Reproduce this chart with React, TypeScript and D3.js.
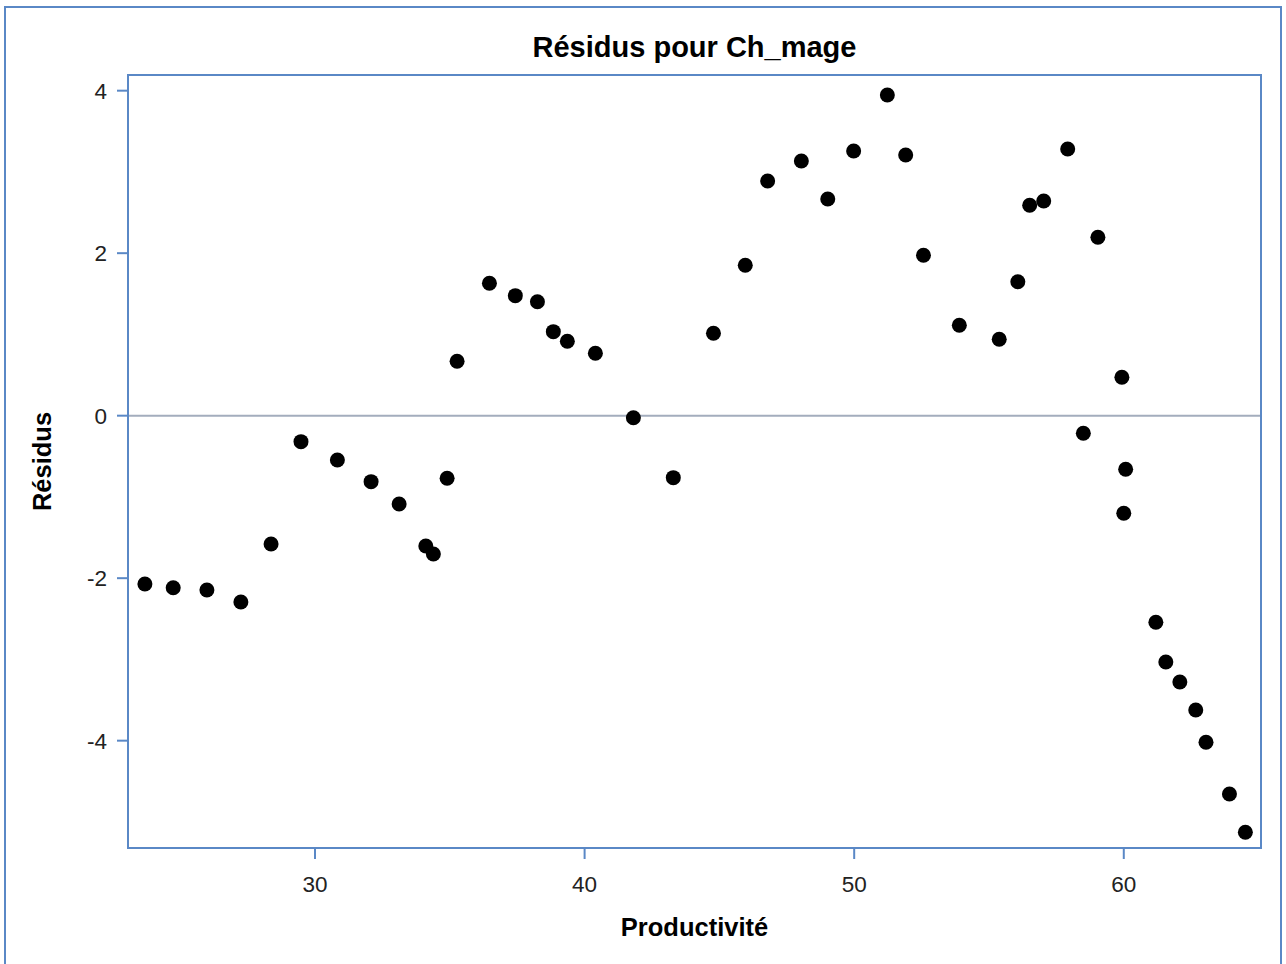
import React from "react";
import * as d3 from "d3";

const productivite: number[] = [
  23.69, 24.74, 25.99, 27.25, 28.37, 29.48, 30.83, 32.08, 33.12, 34.11,
  34.39, 34.9, 35.27, 36.47, 37.43, 38.25, 38.84, 39.36, 40.4, 41.81,
  43.29, 44.78, 45.96, 46.79, 48.04, 49.02, 49.98, 51.23, 51.91, 52.57,
  53.9, 55.38, 56.07, 56.51, 57.03, 57.92, 58.5, 59.04, 59.93, 60.07,
  60.0, 61.19, 61.56, 62.08, 62.67, 63.05, 63.92, 64.51,
];
const residus: number[] = [
  -2.071, -2.117, -2.145, -2.293, -1.579, -0.32, -0.545, -0.812, -1.087, -1.604,
  -1.702, -0.77, 0.67, 1.63, 1.477, 1.403, 1.034, 0.916, 0.768, -0.025,
  -0.763, 1.014, 1.851, 2.889, 3.135, 2.667, 3.258, 3.947, 3.209, 1.974,
  1.113, 0.94, 1.649, 2.59, 2.642, 3.282, -0.217, 2.196, 0.473, -0.66,
  -1.201, -2.543, -3.031, -3.278, -3.622, -4.02, -4.656, -5.127,
];
const xTicks: number[] = [30, 40, 50, 60];
const yTicks: number[] = [-4, -2, 0, 2, 4];
const title = "Résidus pour Ch_mage";
const xLabel = "Productivité";
const yLabel = "Résidus";

const W = 1286;
const H = 964;
const plot = { left: 128, right: 1261, top: 75, bottom: 848 };
const blue = "#5a88c6";
const font = "'Liberation Sans', Arial, sans-serif";

export default function App() {
  const x = d3.scaleLinear().domain([23.063, 65.09]).range([plot.left, plot.right]);
  const y = d3.scaleLinear().domain([-5.321, 4.193]).range([plot.bottom, plot.top]);
  const points = productivite.map((v, i) => ({ x: v, y: residus[i] }));
  const tickLen = 11;

  return (
    <div style={{ position: "absolute", left: 0, top: 0 }}>
      <svg width={W} height={H} style={{ display: "block", background: "#fff" }}>
        <rect x={5} y={7} width={1276} height={970} fill="#fff" stroke={blue} strokeWidth={2} />
        <text x={(plot.left + plot.right) / 2} y={57} textAnchor="middle" fontFamily={font}
          fontWeight="bold" fontSize={29} fill="#000">{title}</text>

        {/* zero reference line */}
        <line x1={plot.left} x2={plot.right} y1={y(0)} y2={y(0)} stroke="#a3adbd" strokeWidth={2} />

        {/* plot frame */}
        <rect x={plot.left} y={plot.top} width={plot.right - plot.left} height={plot.bottom - plot.top}
          fill="none" stroke={blue} strokeWidth={2} />

        {/* x ticks */}
        {xTicks.map((t) => (
          <g key={"x" + t}>
            <line x1={x(t)} x2={x(t)} y1={plot.bottom} y2={plot.bottom + tickLen} stroke={blue} strokeWidth={2} />
            <text x={x(t)} y={892} textAnchor="middle" fontFamily={font} fontSize={22.5} fill="#222">{t}</text>
          </g>
        ))}
        {/* y ticks */}
        {yTicks.map((t) => (
          <g key={"y" + t}>
            <line x1={plot.left - tickLen} x2={plot.left} y1={y(t)} y2={y(t)} stroke={blue} strokeWidth={2} />
            <text x={107} y={y(t) + 8} textAnchor="end" fontFamily={font} fontSize={22.5} fill="#222">{t}</text>
          </g>
        ))}

        {/* axis labels */}
        <text x={(plot.left + plot.right) / 2} y={936} textAnchor="middle" fontFamily={font}
          fontWeight="bold" fontSize={25.5} fill="#000">{xLabel}</text>
        <text transform={`translate(51, ${(plot.top + plot.bottom) / 2}) rotate(-90)`} textAnchor="middle"
          fontFamily={font} fontWeight="bold" fontSize={25.5} fill="#000">{yLabel}</text>

        {/* points */}
        {points.map((p, i) => (
          <circle key={i} cx={x(p.x)} cy={y(p.y)} r={7.5} fill="#000" />
        ))}
      </svg>
    </div>
  );
}
